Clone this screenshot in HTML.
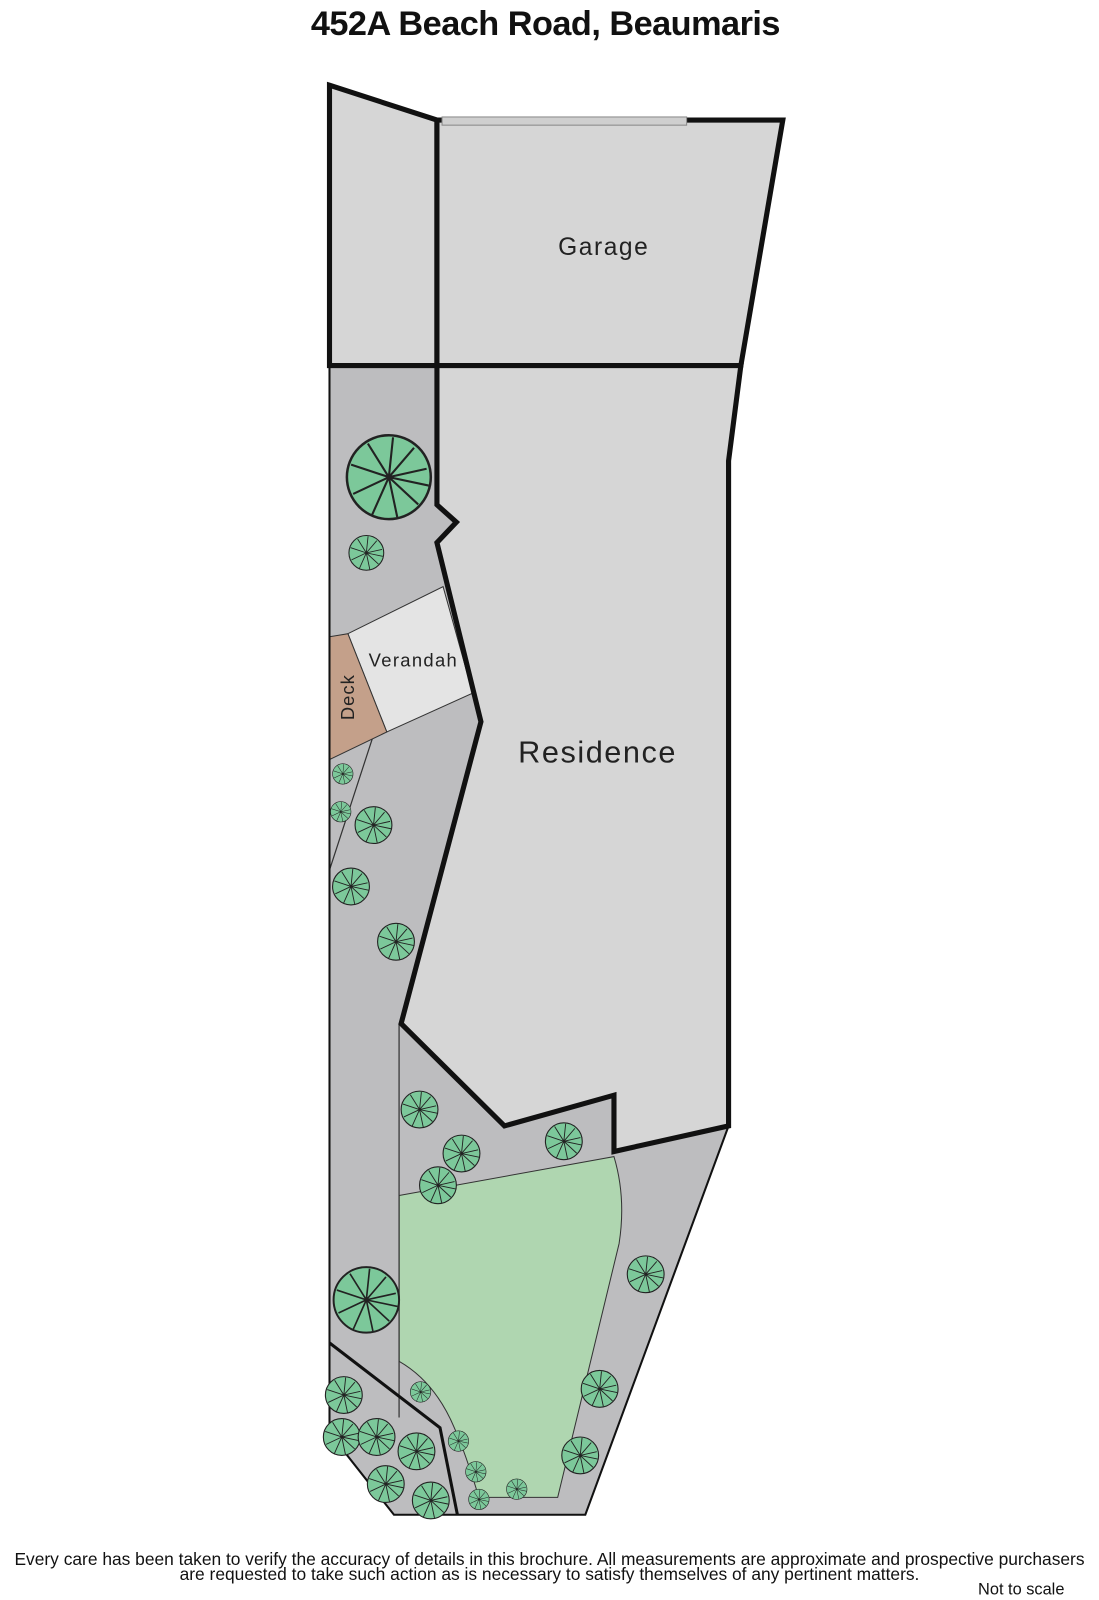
<!DOCTYPE html>
<html><head><style>
body{margin:0;width:1099px;height:1600px;background:#fff;overflow:hidden;font-family:"Liberation Sans",sans-serif}
</style></head><body>
<svg width="1099" height="1600" viewBox="0 0 1074 1563" xmlns="http://www.w3.org/2000/svg" style="display:block">
<defs>
<g id="t">
<circle r="1" fill="#7cc89a" stroke="#222" stroke-width="0.06"/>
<path d="M0 0L0.9 -0.2M0 0L0.6 -0.7M0 0L0.1 -0.95M0 0L-0.5 -0.8M0 0L-0.9 -0.3M0 0L-0.85 0.4M0 0L-0.4 0.9M0 0L0.2 0.95M0 0L0.7 0.65M0 0L0.95 0.2" stroke="#222" stroke-width="0.05" fill="none"/>
</g>
</defs>
<text x="533" y="34" text-anchor="middle" font-size="33.5" font-weight="bold" fill="#111" letter-spacing="-0.5">452A Beach Road, Beaumaris</text>
<path d="M322 357L427 357L427 493L446 510L427 530L470 705L392 1000L493 1100L600 1070L600 1125L712 1100L572 1480L385 1480L322 1400Z" fill="#bdbdbf"/>
<path d="M390 1168L600 1130Q612 1170 605 1215L545 1463L468 1463Q455 1420 444 1395Q425 1350 390 1330Z" fill="#afd6b0" stroke="#333" stroke-width="1"/>
<path d="M365 718L322 850M390 1000L390 1385" stroke="#333" stroke-width="1.2" fill="none"/>
<path d="M322 1312L430 1395L447 1480" stroke="#111" stroke-width="3" fill="none"/>
<path d="M340 619L433 573L462 677L378 715Z" fill="#e4e4e4" stroke="#333" stroke-width="1"/>
<path d="M322 622L340 619L378 715L322 742Z" fill="#c4a08a" stroke="#333" stroke-width="1"/>
<path d="M322 357L322 1312M322 1312L322 1400L385 1480L572 1480L712 1100" stroke="#111" stroke-width="2" fill="none"/>
<path d="M322 83L427 117L427 357L322 357Z" fill="#d6d6d6" stroke="#111" stroke-width="5"/>
<path d="M427 117L765 117L724 357L427 357Z" fill="#d6d6d6" stroke="#111" stroke-width="5"/>
<rect x="432" y="114" width="239" height="8" fill="#cfcfcf" stroke="#888" stroke-width="1"/>
<path d="M427 357L724 357L712 450L712 1100L600 1125L600 1070L493 1100L392 1000L470 705L427 530L446 510L427 493Z" fill="#d6d6d6" stroke="#111" stroke-width="5" stroke-linejoin="miter"/>
<text x="590" y="249" text-anchor="middle" font-size="24" fill="#222" letter-spacing="1.5">Garage</text>
<text x="584" y="745" text-anchor="middle" font-size="30" fill="#222" letter-spacing="1.5">Residence</text>
<text x="404" y="651" text-anchor="middle" font-size="18" fill="#222" letter-spacing="1.3">Verandah</text>
<text transform="translate(346 681) rotate(-90)" text-anchor="middle" font-size="18" fill="#222" letter-spacing="1">Deck</text>
<g>
<use href="#t" transform="translate(380 466) scale(41)"/>
<use href="#t" transform="translate(358 540) scale(17)"/>
<use href="#t" transform="translate(335 756) scale(10)"/>
<use href="#t" transform="translate(333 793) scale(10)"/>
<use href="#t" transform="translate(365 806) scale(18)"/>
<use href="#t" transform="translate(343 866) scale(18)"/>
<use href="#t" transform="translate(387 920) scale(18)"/>
<use href="#t" transform="translate(410 1084) scale(18)"/>
<use href="#t" transform="translate(451 1127) scale(18)"/>
<use href="#t" transform="translate(428 1158) scale(18)"/>
<use href="#t" transform="translate(551 1115) scale(18)"/>
<use href="#t" transform="translate(358 1270) scale(32)"/>
<use href="#t" transform="translate(631 1245) scale(18)"/>
<use href="#t" transform="translate(586 1357) scale(18)"/>
<use href="#t" transform="translate(567 1422) scale(18)"/>
<use href="#t" transform="translate(411 1360) scale(10)"/>
<use href="#t" transform="translate(448 1408) scale(10)"/>
<use href="#t" transform="translate(465 1438) scale(10)"/>
<use href="#t" transform="translate(468 1465) scale(10)"/>
<use href="#t" transform="translate(505 1455) scale(10)"/>
<use href="#t" transform="translate(336 1363) scale(18)"/>
<use href="#t" transform="translate(334 1404) scale(18)"/>
<use href="#t" transform="translate(368 1404) scale(18)"/>
<use href="#t" transform="translate(407 1418) scale(18)"/>
<use href="#t" transform="translate(377 1450) scale(18)"/>
<use href="#t" transform="translate(421 1466) scale(18)"/>
</g>
<text x="537" y="1529" text-anchor="middle" font-size="17" fill="#111">Every care has been taken to verify the accuracy of details in this brochure.  All measurements are approximate and prospective purchasers</text>
<text x="537" y="1544" text-anchor="middle" font-size="17" fill="#111">are requested to take such action as is necessary to satisfy themselves of any pertinent matters.</text>
<text x="998" y="1558" text-anchor="middle" font-size="16" fill="#111">Not to scale</text>
</svg>
</body></html>
